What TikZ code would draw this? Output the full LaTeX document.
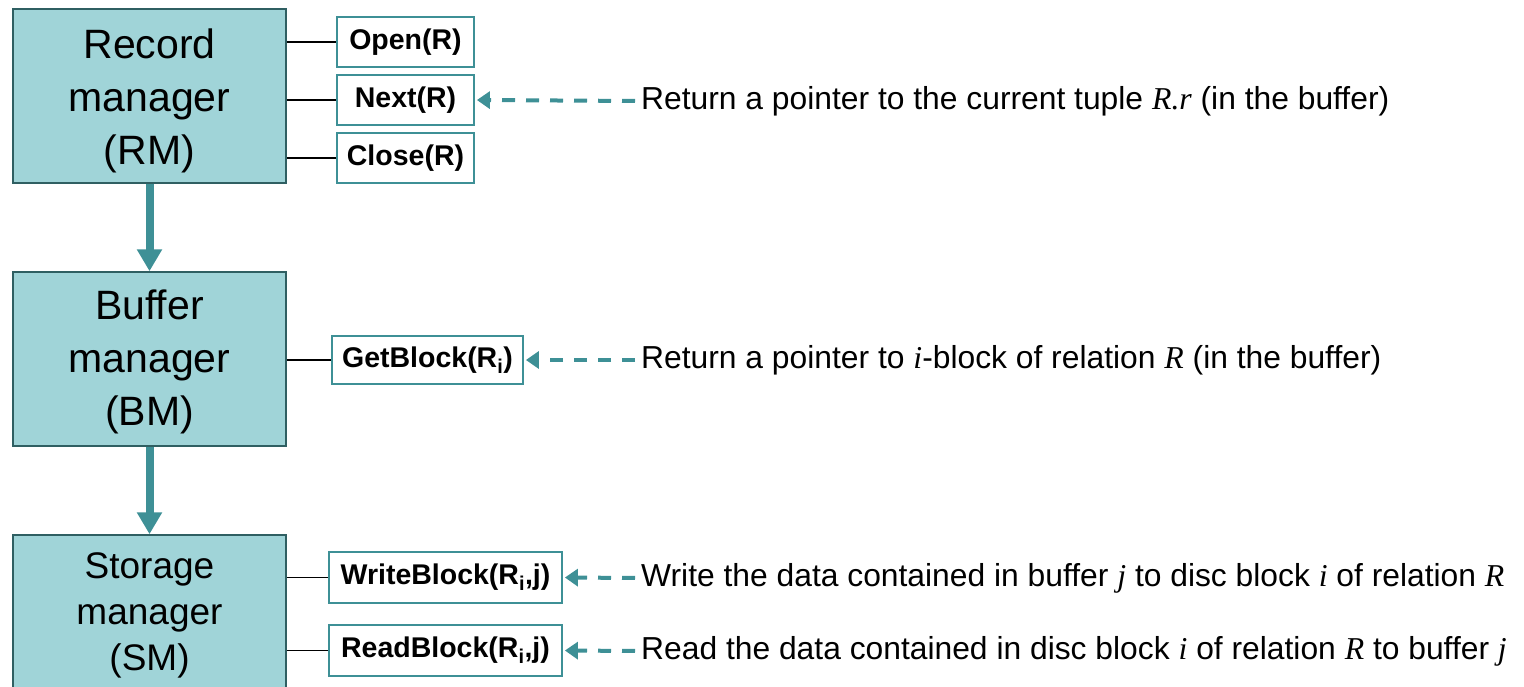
\documentclass[tikz,border=0pt]{standalone}
\usepackage{fontspec}
\setmainfont{Liberation Sans}
\newfontfamily\tmsfont{Liberation Serif}
\usetikzlibrary{arrows.meta}
\definecolor{mgrfill}{HTML}{A0D4D8}
\definecolor{mgredge}{HTML}{2F5F62}
\definecolor{tealline}{HTML}{3E9096}
\newcommand{\mv}[1]{{\tmsfont\itshape #1}}
\tikzset{
  mgr/.style={draw=mgredge, line width=1.5pt, fill=mgrfill, minimum width=273pt,
    inner sep=0pt},
  mgrlabel/.style={inner sep=0pt, align=center, font=\fontsize{41}{53}\selectfont},
  op/.style={draw=tealline, line width=1.8pt, fill=white, inner sep=0pt,
    font=\fontsize{28.5}{32}\selectfont\bfseries},
  desc/.style={anchor=west, inner sep=0pt, font=\fontsize{31.8}{36}\selectfont},
  link/.style={line width=1.4pt, black},
  down/.style={line width=8pt, tealline, -{Triangle[width=24pt,length=22pt]}},
  call/.style={line width=4pt, tealline, dash pattern=on 13pt off 11pt,
    -{Triangle[width=17pt,length=13pt]}, shorten >=2pt, shorten <=6pt},
}
\begin{document}
\begin{tikzpicture}[x=1pt,y=-1pt]
\useasboundingbox (0,0) rectangle (1524,686);
\clip (0,0) rectangle (1524,686);

% managers
\node[mgr, minimum height=174pt] (rm) at (149.5,96) {};
\node[mgr, minimum height=174pt] (bm) at (149.5,359) {};
\node[mgr, minimum height=156pt] (sm) at (149.5,613) {};
\node[mgrlabel] (rmtext) at (149.5,101) {Record\\manager\\(RM)};
\node[mgrlabel] (bmtext) at (149.5,362) {Buffer\\manager\\(BM)};
\node[mgrlabel, font=\fontsize{37}{46}\selectfont] (smtext) at (149.5,615) {Storage\\manager\\(SM)};

\draw[down] (rm.south) -- (bm.north);
\draw[down] (bm.south) -- (sm.north);

% operations
\node[op, minimum width=137pt, minimum height=50pt] (open) at (405.5,42) {Open(R)};
\node[op, minimum width=137pt, minimum height=50pt] (next) at (405.5,100) {Next(R)};
\node[op, minimum width=137pt, minimum height=50pt] (close) at (405.5,158) {Close(R)};
\node[op, minimum width=191pt, minimum height=48pt] (get) at (427.5,360) {GetBlock(R\textsubscript{i})};
\node[op, minimum width=233pt, minimum height=51pt] (write) at (445.5,577.5) {WriteBlock(R\textsubscript{i},j)};
\node[op, minimum width=233pt, minimum height=51pt] (read) at (445.5,650.5) {ReadBlock(R\textsubscript{i},j)};

\draw[link] (open.west -| rm.east) -- (open.west);
\draw[link] (next.west -| rm.east) -- (next.west);
\draw[link] (close.west -| rm.east) -- (close.west);
\draw[link] (get.west -| bm.east) -- (get.west);
\draw[link] (write.west -| sm.east) -- (write.west);
\draw[link] (read.west -| sm.east) -- (read.west);

% descriptions
\node[desc] (dnext) at (641,101) {Return a pointer to the current tuple \mv{R.r} (in the buffer)};
\node[desc] (dget) at (641,360) {Return a pointer to \mv{i}-block of relation \mv{R} (in the buffer)};
\node[desc] (dwrite) at (641,578) {Write the data contained in buffer \mv{j} to disc block \mv{i} of relation \mv{R}};
\node[desc] (dread) at (641,651) {Read the data contained in disc block \mv{i} of relation \mv{R} to buffer \mv{j}};

\draw[call] (dnext.west) -- (next.east);
\draw[call] (dget.west) -- (get.east);
\draw[call] (dwrite.west) -- (write.east);
\draw[call] (dread.west) -- (read.east);
\end{tikzpicture}
\end{document}
